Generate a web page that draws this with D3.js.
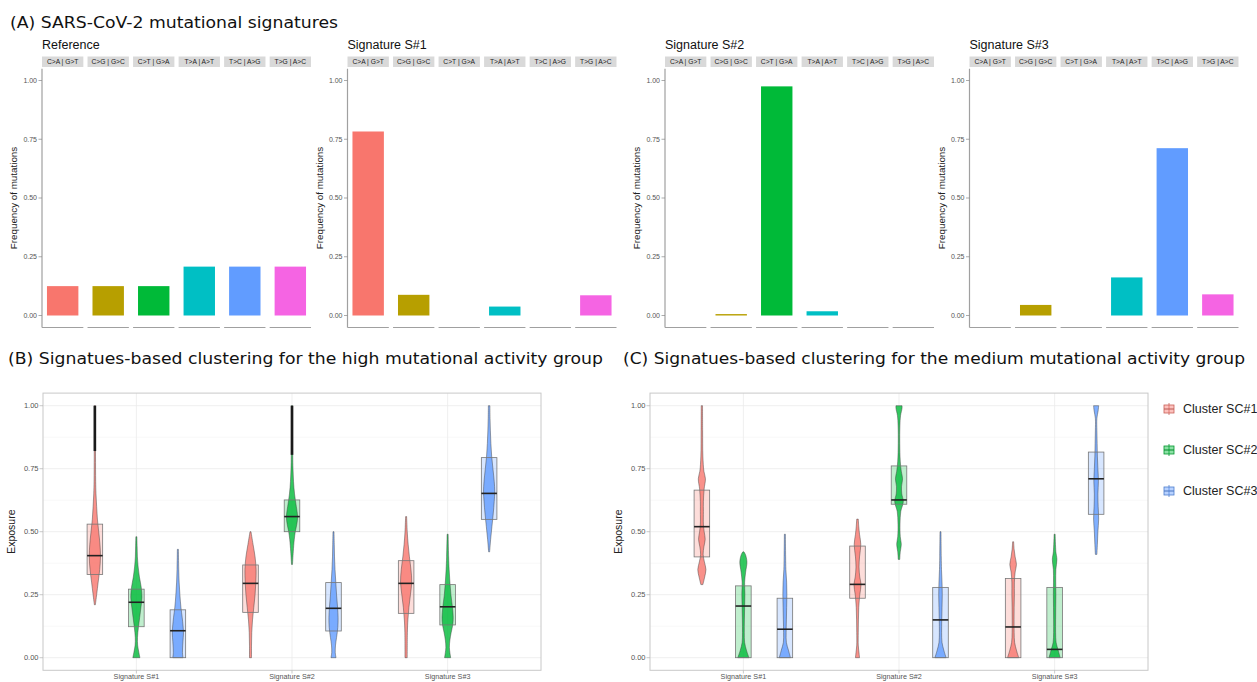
<!DOCTYPE html>
<html><head><meta charset="utf-8">
<script src="https://cdn.jsdelivr.net/npm/d3@7"></script>
<style>body{margin:0;background:#fff}</style>
</head><body><svg id="c" width="1257" height="682" xmlns="http://www.w3.org/2000/svg"></svg>
<script>
// ---------- DATA ----------
const mutationTypes = ["C>A | G>T","C>G | G>C","C>T | G>A","T>A | A>T","T>C | A>G","T>G | A>C"];
const mutationColors = ["#F8766D","#B79F00","#00BA38","#00BFC4","#619CFF","#F564E3"];
const signaturePanels = ["Reference","Signature S#1","Signature S#2","Signature S#3"];
const referenceFreq = [0.125,0.125,0.125,0.208,0.208,0.208];
const sig1Freq = [0.783,0.088,0,0.038,0,0.086];
const sig2Freq = [0,0.006,0.975,0.018,0,0];
const sig3Freq = [0,0.045,0,0.162,0.712,0.090];
const freqTicks = [0,0.25,0.5,0.75,1];
const tickLabels = ["0.00","0.25","0.50","0.75","1.00"];

const signatures = ["Signature S#1","Signature S#2","Signature S#3"];
const clusters = ["Cluster SC#1","Cluster SC#2","Cluster SC#3"];
const clusterColors = ["#F8766D","#00BA38","#619CFF"];

// box stats [q1, median, q3] indexed [signature][cluster]
const highBoxes = [
  [[0.33,0.405,0.53],[0.123,0.22,0.272],[0.0,0.107,0.19]],
  [[0.18,0.295,0.368],[0.5,0.56,0.626],[0.106,0.196,0.298]],
  [[0.176,0.295,0.385],[0.13,0.202,0.29],[0.549,0.652,0.794]]
];
const mediumBoxes = [
  [[0.40,0.52,0.665],[0.0,0.205,0.285],[0.0,0.113,0.236]],
  [[0.236,0.291,0.443],[0.609,0.626,0.761],[0.0,0.15,0.279]],
  [[0.0,0.122,0.314],[0.0,0.033,0.279],[0.569,0.71,0.816]]
];
// violin profiles [exposure, relative density] indexed [signature][cluster]
const highViolins = [
  [
    [[0.21,0],[0.25,0.25],[0.30,0.55],[0.35,0.85],[0.40,1.0],[0.45,0.9],[0.50,0.65],[0.55,0.4],[0.60,0.25],[0.65,0.12],[0.70,0.06],[0.80,0.03],[0.90,0.02],[1.0,0.02]],
    [[0.0,0.6],[0.02,0.4],[0.05,0.15],[0.08,0.12],[0.12,0.3],[0.16,0.55],[0.20,0.8],[0.24,1.0],[0.28,0.85],[0.32,0.5],[0.36,0.25],[0.40,0.1],[0.44,0.05],[0.48,0]],
    [[0.0,0.9],[0.02,0.8],[0.05,0.85],[0.08,0.95],[0.10,1.0],[0.13,0.9],[0.16,0.75],[0.20,0.5],[0.25,0.3],[0.30,0.15],[0.35,0.07],[0.43,0]]
  ],
  [
    [[0.0,0.1],[0.05,0.1],[0.10,0.15],[0.15,0.3],[0.20,0.55],[0.25,0.8],[0.30,0.95],[0.35,1.0],[0.40,0.8],[0.45,0.4],[0.50,0]],
    [[0.37,0],[0.42,0.15],[0.47,0.35],[0.50,0.55],[0.53,0.85],[0.56,1.0],[0.60,0.75],[0.65,0.4],[0.70,0.2],[0.75,0.1],[0.80,0.05],[0.90,0.03],[1.0,0.03]],
    [[0.0,0.4],[0.02,0.25],[0.05,0.3],[0.08,0.5],[0.12,0.75],[0.16,0.8],[0.20,0.7],[0.25,0.5],[0.30,0.35],[0.35,0.2],[0.40,0.1],[0.45,0.05],[0.50,0]]
  ],
  [
    [[0.0,0.12],[0.10,0.15],[0.15,0.25],[0.20,0.45],[0.25,0.75],[0.30,1.0],[0.35,0.85],[0.40,0.55],[0.45,0.3],[0.50,0.12],[0.56,0]],
    [[0.0,0.5],[0.02,0.35],[0.04,0.25],[0.07,0.35],[0.10,0.6],[0.13,0.9],[0.16,1.0],[0.20,0.85],[0.25,0.55],[0.30,0.35],[0.35,0.2],[0.40,0.1],[0.49,0]],
    [[0.42,0],[0.47,0.2],[0.52,0.45],[0.57,0.7],[0.62,0.9],[0.66,1.0],[0.70,0.9],[0.75,0.65],[0.80,0.4],[0.85,0.25],[0.90,0.15],[0.95,0.08],[1.0,0.05]]
  ]
];
const mediumViolins = [
  [
    [[0.29,0.1],[0.32,0.45],[0.35,0.7],[0.38,0.4],[0.41,0.15],[0.44,0.3],[0.47,0.55],[0.50,0.35],[0.53,0.2],[0.58,0.2],[0.62,0.2],[0.67,0.35],[0.71,0.6],[0.74,0.3],[0.80,0.1],[0.90,0.05],[1.0,0.03]],
    [[0.0,1.0],[0.03,0.5],[0.06,0.15],[0.10,0.08],[0.15,0.1],[0.20,0.15],[0.25,0.2],[0.30,0.15],[0.34,0.35],[0.38,0.6],[0.41,0.3],[0.42,0]],
    [[0.0,1.0],[0.03,0.6],[0.06,0.2],[0.10,0.15],[0.15,0.2],[0.20,0.25],[0.25,0.3],[0.30,0.25],[0.35,0.1],[0.40,0.05],[0.49,0]]
  ],
  [
    [[0.0,0.3],[0.02,0.2],[0.05,0.05],[0.10,0.05],[0.15,0.08],[0.20,0.15],[0.25,0.35],[0.29,0.6],[0.32,0.35],[0.36,0.2],[0.40,0.3],[0.45,0.55],[0.49,0.3],[0.52,0.15],[0.55,0.05]],
    [[0.39,0.05],[0.42,0.15],[0.45,0.35],[0.48,0.15],[0.53,0.1],[0.58,0.25],[0.62,0.75],[0.65,0.45],[0.68,0.4],[0.71,0.6],[0.74,0.35],[0.78,0.15],[0.85,0.05],[0.92,0.08],[0.96,0.2],[0.99,0.5],[1.0,0.5]],
    [[0.0,1.0],[0.03,0.55],[0.06,0.2],[0.10,0.12],[0.15,0.15],[0.20,0.2],[0.25,0.25],[0.30,0.2],[0.35,0.1],[0.40,0.05],[0.50,0]]
  ],
  [
    [[0.0,1.0],[0.03,0.55],[0.06,0.2],[0.10,0.1],[0.15,0.08],[0.20,0.1],[0.25,0.15],[0.30,0.15],[0.34,0.3],[0.37,0.55],[0.40,0.3],[0.43,0.1],[0.46,0]],
    [[0.0,1.0],[0.03,0.6],[0.06,0.2],[0.10,0.1],[0.15,0.1],[0.20,0.12],[0.25,0.15],[0.30,0.12],[0.35,0.15],[0.39,0.35],[0.42,0.15],[0.49,0]],
    [[0.41,0.05],[0.45,0.15],[0.50,0.25],[0.55,0.4],[0.60,0.3],[0.65,0.25],[0.70,0.35],[0.75,0.25],[0.80,0.15],[0.85,0.1],[0.90,0.05],[0.95,0.05],[0.98,0.3],[1.0,0.4]]
  ]
];
// dense outlier runs [signature, cluster, from, to]
const highOutlierRuns = [[0,0,0.82,1.0],[1,1,0.805,1.0]];

// ---------- DRAW ----------
const svg = d3.select("#c");
const sans = "'Liberation Sans', Arial, sans-serif";
const verd = "'DejaVu Sans', Verdana, sans-serif";

function title(txt, x, y, w){
  svg.append("text").attr("x",x).attr("y",y).attr("font-family",verd).attr("font-size",15.5)
    .attr("fill","#111").attr("textLength",w).attr("lengthAdjust","spacingAndGlyphs").text(txt);
}
title("(A) SARS-CoV-2 mutational signatures", 10, 28, 328);
title("(B) Signatues-based clustering for the high mutational activity group", 8, 364, 595);
title("(C) Signatues-based clustering for the medium mutational activity group", 623, 364, 622);

// Top bar panels
const topX = [42, 347.5, 665, 969.5];
const topW = 269;
const freqs = [referenceFreq, sig1Freq, sig2Freq, sig3Freq];
const yTop = d3.scaleLinear().domain([-0.05,1.05]).range([327.25,68.75]);

signaturePanels.forEach((name,pi)=>{
  const g = svg.append("g");
  const x0 = topX[pi];
  const band = d3.scaleBand().domain(mutationTypes).range([x0, x0+topW]).paddingInner(0.092).paddingOuter(0);
  g.append("text").attr("x",x0).attr("y",49).attr("font-family",sans).attr("font-size",12.5).attr("fill","#111").text(name);
  mutationTypes.forEach((m,i)=>{
    g.append("rect").attr("x",band(m)).attr("y",56.5).attr("width",band.bandwidth()).attr("height",10.5).attr("fill","#d9d9d9");
    g.append("text").attr("x",band(m)+band.bandwidth()/2).attr("y",64.3).attr("text-anchor","middle")
      .attr("font-family",sans).attr("font-size",6.7).attr("fill","#1a1a1a").text(m);
    g.append("line").attr("x1",band(m)).attr("x2",band(m)+band.bandwidth()).attr("y1",327.5).attr("y2",327.5)
      .attr("stroke","#a0a0a0").attr("stroke-width",1.2);
    const v = freqs[pi][i];
    if (v>0){
      g.append("rect").attr("x",band(m)+band.bandwidth()*0.12).attr("width",band.bandwidth()*0.76)
        .attr("y",yTop(v)).attr("height",yTop(0)-yTop(v)).attr("fill",mutationColors[i]);
    }
  });
  g.append("line").attr("x1",x0).attr("x2",x0).attr("y1",68.75).attr("y2",327.5).attr("stroke","#a0a0a0").attr("stroke-width",1.2);
  freqTicks.forEach((t,i)=>{
    g.append("line").attr("x1",x0-3.5).attr("x2",x0).attr("y1",yTop(t)).attr("y2",yTop(t)).attr("stroke","#888").attr("stroke-width",0.7);
    g.append("text").attr("x",x0-5).attr("y",yTop(t)+2.4).attr("text-anchor","end").attr("font-family",sans)
      .attr("font-size",7).attr("fill","#555").text(tickLabels[i]);
  });
  g.append("text").attr("transform",`translate(${x0-25},${(68.75+327.25)/2}) rotate(-90)`).attr("text-anchor","middle")
    .attr("font-family",sans).attr("font-size",9.8).attr("fill","#222").text("Frequency of mutations");
});

// Bottom box/violin panels
const yBot = d3.scaleLinear().domain([-0.05,1.05]).range([670.3,393.1]);
const minorTicks = [0.125,0.375,0.625,0.875];

function boxPanel(x0, boxes, violins, outlierRuns){
  const x1 = x0 + 498;
  const g = svg.append("g");
  const xs = d3.scalePoint().domain(signatures).range([x0,x1]).padding(0.6);
  const step = xs.step();
  const off = k => (k-1)*step*0.8/3;
  const bw = step*0.1;
  const wScale = d3.scaleLinear().domain([0,1]).range([0.5,5.6]);
  minorTicks.forEach(t=>g.append("line").attr("x1",x0).attr("x2",x1).attr("y1",yBot(t)).attr("y2",yBot(t)).attr("stroke","#f4f4f4").attr("stroke-width",0.6));
  freqTicks.forEach(t=>g.append("line").attr("x1",x0).attr("x2",x1).attr("y1",yBot(t)).attr("y2",yBot(t)).attr("stroke","#ebebeb").attr("stroke-width",0.8));
  signatures.forEach(s=>g.append("line").attr("x1",xs(s)).attr("x2",xs(s)).attr("y1",393.1).attr("y2",670.3).attr("stroke","#ebebeb").attr("stroke-width",0.8));
  g.append("rect").attr("x",x0).attr("y",393.1).attr("width",498).attr("height",670.3-393.1).attr("fill","none").attr("stroke","#c8c8c8").attr("stroke-width",1);
  freqTicks.forEach((t,i)=>{
    g.append("line").attr("x1",x0-3.5).attr("x2",x0).attr("y1",yBot(t)).attr("y2",yBot(t)).attr("stroke","#b3b3b3").attr("stroke-width",0.7);
    g.append("text").attr("x",x0-4.5).attr("y",yBot(t)+2.6).attr("text-anchor","end").attr("font-family",sans)
      .attr("font-size",7.5).attr("fill","#555").text(tickLabels[i]);
  });
  signatures.forEach(s=>{
    g.append("line").attr("x1",xs(s)).attr("x2",xs(s)).attr("y1",670.3).attr("y2",673.5).attr("stroke","#b3b3b3").attr("stroke-width",0.7);
    g.append("text").attr("x",xs(s)).attr("y",679).attr("text-anchor","middle").attr("font-family",sans)
      .attr("font-size",7.2).attr("fill","#555").text(s);
  });
  g.append("text").attr("transform",`translate(${x0-28},${(393.1+670.3)/2}) rotate(-90)`).attr("text-anchor","middle")
    .attr("font-family",sans).attr("font-size",10.5).attr("fill","#222").text("Exposure");
  signatures.forEach((s,si)=>{
    clusters.forEach((c,ci)=>{
      const cx = xs(s)+off(ci);
      const [q1,med,q3] = boxes[si][ci];
      const col = clusterColors[ci];
      g.append("rect").attr("x",cx-bw/2).attr("width",bw).attr("y",yBot(q3)).attr("height",yBot(q1)-yBot(q3))
        .attr("fill",col).attr("fill-opacity",0.25);
      const area = d3.area().y(d=>yBot(d[0])).x0(d=>cx-wScale(d[1])).x1(d=>cx+wScale(d[1])).curve(d3.curveCatmullRom.alpha(0.5));
      g.append("path").attr("d",area(violins[si][ci])).attr("fill",col).attr("fill-opacity",0.8)
        .attr("stroke","#3a3a3a").attr("stroke-width",0.6).attr("stroke-opacity",0.75);
      g.append("rect").attr("x",cx-bw/2).attr("width",bw).attr("y",yBot(q3)).attr("height",yBot(q1)-yBot(q3))
        .attr("fill","none").attr("stroke","#777").attr("stroke-width",0.8);
      g.append("line").attr("x1",cx-bw/2).attr("x2",cx+bw/2).attr("y1",yBot(med)).attr("y2",yBot(med))
        .attr("stroke","#222").attr("stroke-width",1.6);
    });
  });
  outlierRuns.forEach(([si,ci,lo,hi])=>{
    const cx = xs(signatures[si])+off(ci);
    g.append("line").attr("x1",cx).attr("x2",cx).attr("y1",yBot(lo)).attr("y2",yBot(hi)).attr("stroke","#1a1a1a").attr("stroke-width",2.6);
  });
}
boxPanel(43, highBoxes, highViolins, highOutlierRuns);
boxPanel(650, mediumBoxes, mediumViolins, []);

// legend
clusters.forEach((c,i)=>{
  const yc = 409 + i*41;
  const col = clusterColors[i];
  const lg = svg.append("g");
  lg.append("line").attr("x1",1169).attr("x2",1169).attr("y1",yc-6).attr("y2",yc+6).attr("stroke",d3.color(col).darker(0.6)).attr("stroke-width",0.8);
  lg.append("rect").attr("x",1164).attr("y",yc-4).attr("width",10).attr("height",8).attr("fill",col).attr("fill-opacity",0.45)
    .attr("stroke",d3.color(col).darker(0.6)).attr("stroke-width",0.8);
  lg.append("line").attr("x1",1164).attr("x2",1174).attr("y1",yc).attr("y2",yc).attr("stroke",d3.color(col).darker(0.8)).attr("stroke-width",1);
  lg.append("text").attr("x",1183).attr("y",yc+4.3).attr("font-family",sans).attr("font-size",12.5).attr("fill","#222").text(c);
});
</script></body></html>
